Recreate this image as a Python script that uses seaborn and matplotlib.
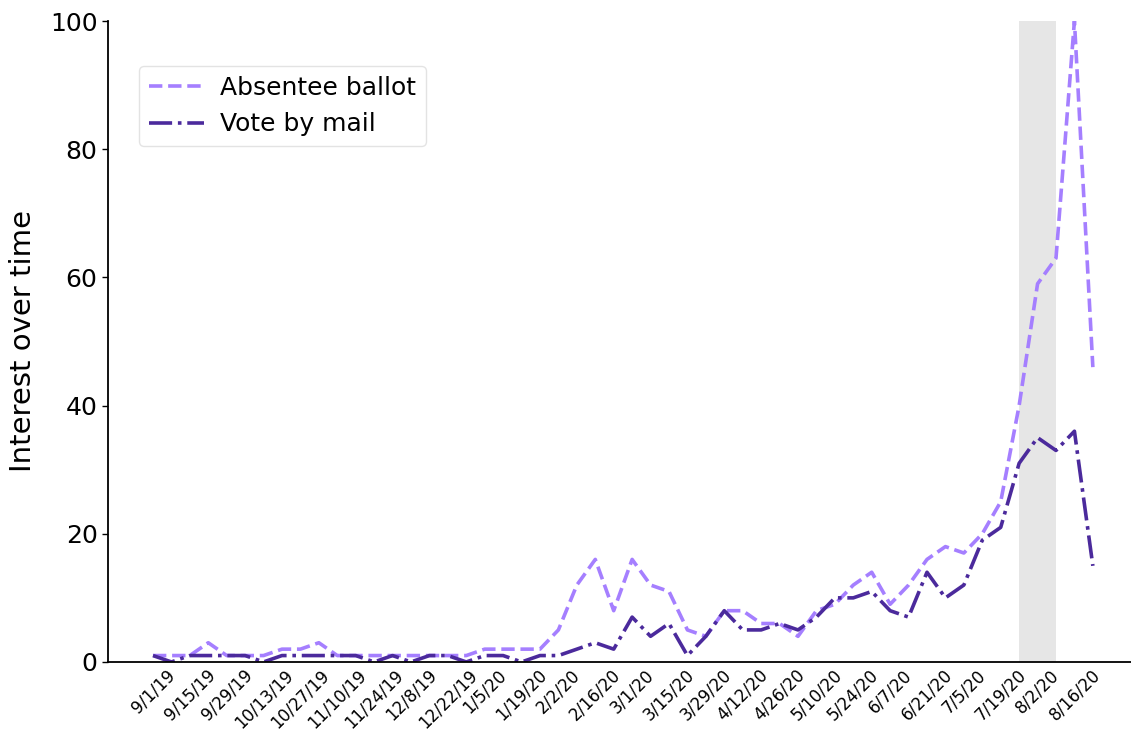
import matplotlib
matplotlib.use("Agg")
import matplotlib.pyplot as plt
import seaborn as sns
import pandas as pd
import numpy as np

weeks = pd.date_range("2019-09-01", periods=52, freq="7D")
week_labels = [f"{d.month}/{d.day}/{d.strftime('%y')}" for d in weeks]

absentee_ballot = [1, 1, 1, 3, 1, 1, 1, 2, 2, 3, 1, 1, 1, 1, 1, 1, 1,
                   1, 2, 2, 2, 2, 5, 12, 16, 8, 16, 12, 11, 5, 4, 8, 8, 6,
                   6, 4, 8, 9, 12, 14, 9, 12, 16, 18, 17, 20, 25, 40, 59, 63, 100, 46]
vote_by_mail = [1, 0, 1, 1, 1, 1, 0, 1, 1, 1, 1, 1, 0, 1, 0, 1, 1,
                0, 1, 1, 0, 1, 1, 2, 3, 2, 7, 4, 6, 1, 4, 8, 5, 5,
                6, 5, 7, 10, 10, 11, 8, 7, 14, 10, 12, 19, 21, 31, 35, 33, 36, 15]

shade_start, shade_end = 47, 49  # week indices of the highlighted period

df = pd.DataFrame({"week": np.arange(len(weeks)),
                   "Absentee ballot": absentee_ballot,
                   "Vote by mail": vote_by_mail})

sns.set_style("white")
plt.rcParams['font.family'] = ['DejaVu Sans']
plt.rcParams['text.color'] = 'black'
plt.rcParams['axes.labelcolor'] = 'black'
plt.rcParams['xtick.color'] = 'black'
plt.rcParams['ytick.color'] = 'black'

fig = plt.figure(figsize=(11.31, 7.30), dpi=100)
ax = fig.add_axes([0.0955, 0.0932, 0.9045, 0.8780])

ax.axvspan(shade_start, shade_end, color="#e6e6e6", lw=0, zorder=0)

sns.lineplot(data=df, x="week", y="Absentee ballot", ax=ax, color="#a57fff",
             lw=2.6, linestyle="--", label="Absentee ballot")
sns.lineplot(data=df, x="week", y="Vote by mail", ax=ax, color="#4b2a9c",
             lw=2.6, linestyle="-.", label="Vote by mail")

ax.set_xlim(-2.44, 53.07)
ax.set_ylim(0, 100)
ax.set_xticks(np.arange(0, len(weeks), 2))
ax.set_xticklabels(week_labels[::2], rotation=45, fontsize=12, ha="center")
ax.set_yticks([0, 20, 40, 60, 80, 100])
ax.tick_params(axis="y", labelsize=18, length=4, width=1, left=True, color="black")
ax.tick_params(axis="x", length=0, pad=3)
ax.set_xlabel("")
ax.set_ylabel("Interest over time", fontsize=21, labelpad=9)

sns.despine(ax=ax)
for s in ["left", "bottom"]:
    ax.spines[s].set_color("black")
    ax.spines[s].set_linewidth(1.3)

leg = ax.legend(loc="upper left", bbox_to_anchor=(0.030, 0.930), borderaxespad=0,
                fontsize=18, frameon=True, handlelength=2.2, handletextpad=0.65,
                borderpad=0.4, labelspacing=0.5)
leg.get_frame().set_edgecolor("#dddddd")

fig.savefig("out.png", dpi=100)
